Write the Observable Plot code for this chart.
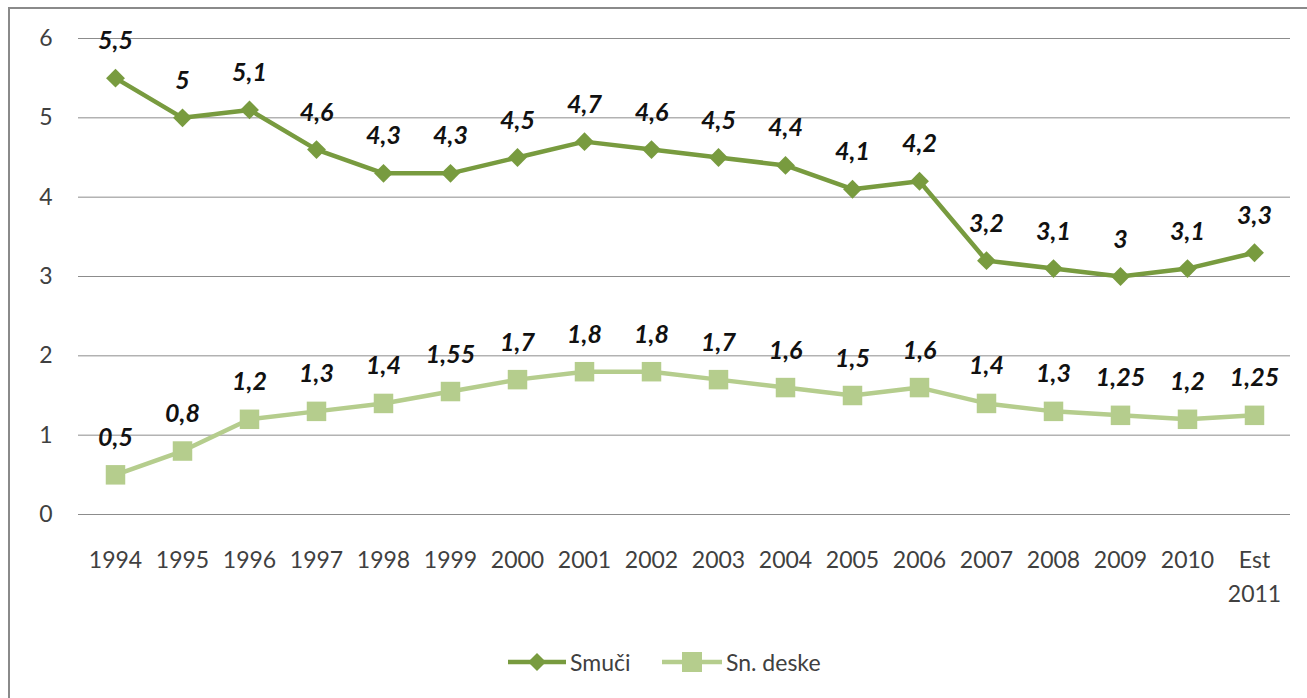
<!DOCTYPE html>
<html><head><meta charset="utf-8">
<script src="https://cdn.jsdelivr.net/npm/d3@7"></script>
<script src="https://cdn.jsdelivr.net/npm/@observablehq/plot@0.6"></script>
<style>
body{margin:0;background:#fff;width:1307px;height:698px;overflow:hidden;position:relative;font-family:Lato,sans-serif}
#frame{position:absolute;left:8px;top:7px;width:1330px;height:730px;border:2px solid #8a8a8a;box-sizing:border-box}
#chart{position:absolute;left:0;top:0}
#legend{position:absolute;left:0;top:640px;width:1307px;height:44px}
#legend .item{position:absolute;top:0;height:44px;display:flex;align-items:center;font-size:23px;color:#404040}
</style></head>
<body>
<div id="frame"></div>
<div id="chart"></div>
<div id="legend"></div>
<script>
const years = ["1994","1995","1996","1997","1998","1999","2000","2001","2002","2003","2004","2005","2006","2007","2008","2009","2010","Est\n2011"];
const smuci = [5.5,5,5.1,4.6,4.3,4.3,4.5,4.7,4.6,4.5,4.4,4.1,4.2,3.2,3.1,3,3.1,3.3];
const deske = [0.5,0.8,1.2,1.3,1.4,1.55,1.7,1.8,1.8,1.7,1.6,1.5,1.6,1.4,1.3,1.25,1.2,1.25];
const seriesNames = ["Smuči","Sn. deske"];
const colors = ["#789b3f","#b5cd8d"];
const yTicks = [0,1,2,3,4,5,6];

const rows = [];
years.forEach((y,i)=>{
  rows.push({year:y, value:smuci[i], series:seriesNames[0]});
  rows.push({year:y, value:deske[i], series:seriesNames[1]});
});
const sm = rows.filter(d=>d.series===seriesNames[0]);
const sd = rows.filter(d=>d.series===seriesNames[1]);
const fmt = v => String(v).replace(".", ",");

const chart = Plot.plot({
  width:1307, height:636,
  marginLeft:78, marginRight:17, marginTop:38, marginBottom:122,
  style:{fontFamily:'Lato,sans-serif', background:"transparent"},
  x:{type:"point", domain:years, padding:0.5},
  y:{domain:[0,6]},
  marks:[
    Plot.gridY(yTicks,{stroke:"#8c8c8c", strokeOpacity:1, strokeWidth:1}),
    Plot.axisY(yTicks,{tickSize:0, tickPadding:26, fontSize:23, fill:"#404040", label:null, tickFormat:d=>String(d)}),
    Plot.axisX({tickSize:0, tickPadding:29, fontSize:23, fill:"#404040", label:null, lineHeight:1.5}),
    Plot.line(sd,{x:"year", y:"value", stroke:colors[1], strokeWidth:4.5}),
    Plot.dot(sd,{x:"year", y:"value", symbol:"square", r:11, fill:colors[1]}),
    Plot.line(sm,{x:"year", y:"value", stroke:colors[0], strokeWidth:4.5}),
    Plot.dot(sm,{x:"year", y:"value", symbol:"diamond2", r:8.5, fill:colors[0]}),
    Plot.text(rows,{x:"year", y:"value", text:d=>fmt(d.value), dy:-37, fontSize:25, fontWeight:"bold", fontStyle:"italic", fill:"#111"})
  ]
});
document.getElementById("chart").appendChild(chart);

// legend
const leg = document.getElementById("legend");
const items = [
  {name:seriesNames[0], color:colors[0], sym:"diamond", left:506},
  {name:seriesNames[1], color:colors[1], sym:"square", left:660}
];
items.forEach(it=>{
  const d = document.createElement("div");
  d.className="item"; d.style.left = it.left+"px";
  const marker = it.sym==="diamond"
    ? `<path d="M31,13 L40,22 L31,31 L22,22Z" fill="${it.color}"/>`
    : `<rect x="22" y="12" width="20" height="20" fill="${it.color}"/>`;
  const cx = it.sym==="diamond"?62:64;
  d.innerHTML = `<svg width="${cx}" height="44"><line x1="2" x2="${cx-2}" y1="22" y2="22" stroke="${it.color}" stroke-width="4.5"/>${marker}</svg><span style="margin-left:2px">${it.name}</span>`;
  leg.appendChild(d);
});
</script>
</body></html>
